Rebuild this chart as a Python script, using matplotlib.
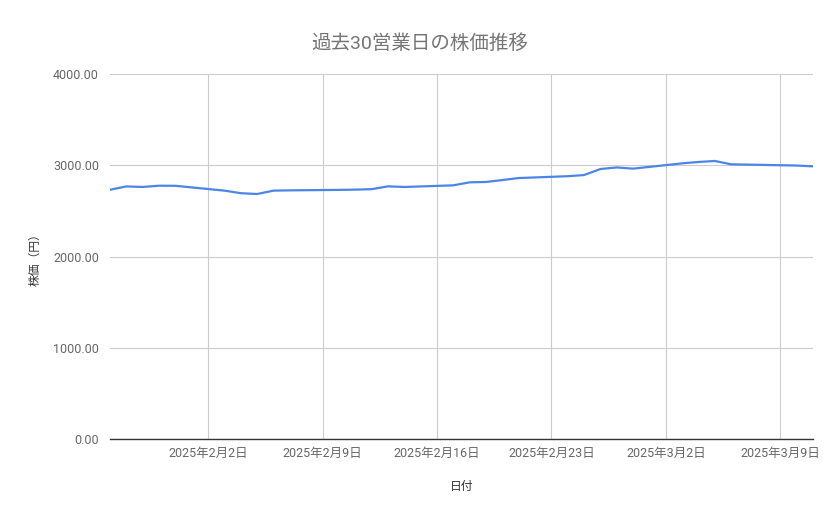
import numpy as np
import pandas as pd
import matplotlib
matplotlib.use("Agg")
import matplotlib.pyplot as plt
import matplotlib.dates as mdates
from matplotlib.ticker import FormatStrFormatter

plt.rcParams['font.family'] = ['Roboto', 'Noto Sans CJK JP', 'DejaVu Sans']

# business days, Jan 27 - Mar 11 2025
dates = pd.to_datetime([
    "2025-01-27", "2025-01-28", "2025-01-29", "2025-01-30", "2025-01-31",
    "2025-02-03", "2025-02-04", "2025-02-05", "2025-02-06", "2025-02-07",
    "2025-02-10", "2025-02-11", "2025-02-12", "2025-02-13", "2025-02-14",
    "2025-02-17", "2025-02-18", "2025-02-19", "2025-02-20", "2025-02-21",
    "2025-02-24", "2025-02-25", "2025-02-26", "2025-02-27", "2025-02-28",
    "2025-03-03", "2025-03-04", "2025-03-05", "2025-03-06", "2025-03-07",
    "2025-03-10", "2025-03-11",
])
prices = [
    2732, 2768, 2762, 2776, 2775,
    2722, 2694, 2685, 2722, 2725,
    2730, 2733, 2738, 2769, 2762,
    2780, 2813, 2817, 2838, 2860,
    2880, 2893, 2959, 2976, 2963,
    3021, 3036, 3047, 3010, 3007,
    2997, 2988,
]
tick_dates = pd.to_datetime(["2025-02-02", "2025-02-09", "2025-02-16",
                             "2025-02-23", "2025-03-02", "2025-03-09"])
tick_labels = ["2025年2月2日", "2025年2月9日", "2025年2月16日",
               "2025年2月23日", "2025年3月2日", "2025年3月9日"]
yticks = [0, 1000, 2000, 3000, 4000]

fig = plt.figure(figsize=(8.39, 5.19), dpi=100)
ax = fig.add_axes([0.1311, 0.1541, 0.8379, 0.7033])

ax.plot(dates, prices, color='#4a86e8', linewidth=1.6)

ax.set_xlim(dates[0], dates[-1])
ax.set_ylim(0, 4000)
ax.set_yticks(yticks)
ax.yaxis.set_major_formatter(FormatStrFormatter('%.2f'))
ax.set_xticks(tick_dates)
ax.set_xticklabels(tick_labels)

ax.grid(True, color='#cccccc', linewidth=0.8)
ax.set_axisbelow(True)
for s in ['top', 'right', 'left']:
    ax.spines[s].set_visible(False)
ax.spines['bottom'].set_color('#333333')
ax.spines['bottom'].set_linewidth(1.0)
ax.spines['bottom'].set_zorder(3)
ax.tick_params(axis='both', length=0, colors='#666666', labelsize=9, pad=8)
ax.tick_params(axis='x', pad=6)

fig.suptitle("過去30営業日の株価推移", x=0.5, y=0.935, fontsize=14,
             color='#757575')
ax.set_xlabel("日付", fontsize=8.5, color='#333333', labelpad=14)
ax.set_ylabel("株価（円）", fontsize=8.5, color='#333333', labelpad=8)

plt.savefig("out.png", dpi=100)
